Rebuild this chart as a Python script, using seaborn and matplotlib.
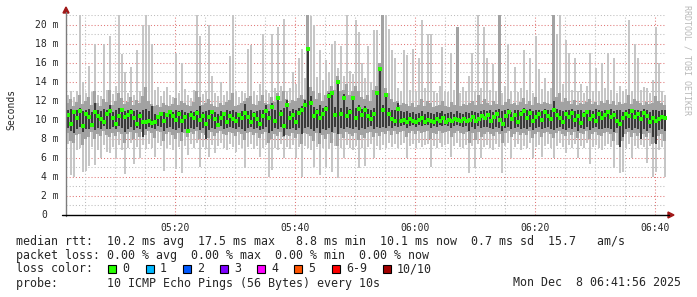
import numpy as np
import pandas as pd
import matplotlib
matplotlib.use("Agg")
import matplotlib.pyplot as plt
import seaborn as sns
from matplotlib.lines import Line2D
from matplotlib.patches import Rectangle, Polygon

# ---------------- data (ms), one sample every 30 s starting 05:01:50 ----------------
start_min = 1 + 50 / 60.0      # minutes after 05:00
step_min = 0.5
n_samples = 200

smoke_max = [
    12.6, 13.0, 12.4, 13.1, 21.0, 14.0, 12.8, 15.7, 12.9, 18.0, 12.6, 12.5, 18.0, 13.2, 18.8, 12.7, 13.6, 21.0, 16.9, 15.0,
    12.8, 15.6, 12.6, 17.4, 13.1, 20.0, 21.0, 20.0, 18.0, 13.2, 13.5, 12.5, 13.0, 13.5, 12.6, 12.4, 17.0, 12.8, 16.0, 13.3,
    12.6, 12.3, 13.2, 21.0, 18.8, 12.7, 13.0, 20.0, 14.6, 12.8, 12.5, 14.0, 12.6, 13.0, 16.7, 21.0, 13.0, 12.4, 13.1, 12.8,
    17.5, 17.9, 13.0, 12.6, 13.8, 19.0, 13.2, 12.8, 19.1, 13.4, 19.8, 13.6, 20.6, 13.1, 13.4, 15.0, 13.8, 16.5, 17.5, 14.4,
    21.05, 20.9, 20.0, 14.5, 17.4, 14.2, 16.3, 15.0, 18.0, 18.3, 15.5, 17.8, 14.6, 21.05, 15.2, 14.8, 20.5, 19.3, 16.0, 14.4,
    17.8, 14.0, 19.5, 19.5, 15.8, 21.05, 21.05, 19.6, 17.4, 16.5, 13.4, 13.1, 17.4, 16.8, 13.2, 17.5, 13.0, 16.5, 20.5, 13.4,
    19.0, 19.0, 13.0, 12.8, 13.6, 17.7, 13.1, 12.9, 17.0, 13.2, 19.8, 12.8, 13.5, 13.0, 14.6, 17.0, 13.1, 21.05, 13.4, 19.8,
    16.5, 13.2, 15.9, 13.0, 21.05, 12.8, 13.6, 18.0, 13.1, 15.6, 12.9, 13.4, 17.4, 13.2, 16.5, 12.8, 18.8, 15.4, 13.3, 14.4,
    13.1, 13.4, 21.05, 19.0, 21.05, 13.8, 18.4, 17.0, 13.2, 16.5, 13.0, 13.8, 12.8, 13.6, 17.0, 13.1, 15.5, 13.0, 16.0, 13.4,
    17.0, 13.2, 16.5, 12.8, 13.6, 13.1, 13.3, 20.5, 13.0, 18.0, 16.5, 13.2, 13.5, 13.4, 12.8, 14.2, 19.8, 16.0, 13.1, 12.6,
]
smoke_min = [
    7.5, 4.2, 4.0, 6.8, 7.0, 4.5, 4.6, 5.2, 7.2, 5.3, 6.8, 6.0, 7.4, 6.6, 6.5, 7.2, 6.0, 7.4, 6.8, 4.3,
    7.0, 7.6, 5.4, 7.2, 6.0, 7.4, 6.9, 7.5, 7.1, 6.1, 7.6, 7.3, 4.6, 7.0, 7.4, 6.8, 4.8, 7.2, 4.4, 7.3,
    6.3, 7.5, 7.0, 7.6, 5.0, 7.2, 6.9, 6.1, 7.4, 6.5, 7.3, 7.6, 7.0, 6.8, 7.5, 7.2, 6.6, 7.4, 7.1, 4.9,
    7.2, 7.5, 6.9, 7.3, 6.1, 7.0, 7.4, 4.0, 4.7, 7.1, 6.8, 7.5, 6.0, 7.2, 6.9, 7.4, 6.0, 7.2, 4.0, 7.3,
    7.0, 6.8, 5.0, 7.2, 4.2, 7.0, 5.0, 6.9, 4.5, 7.3, 3.9, 7.0, 6.0, 7.4, 7.1, 6.8, 7.3, 4.9, 7.0, 5.2,
    7.2, 7.5, 6.0, 7.3, 6.8, 7.4, 7.1, 7.6, 7.2, 7.5, 7.0, 7.4, 7.6, 6.0, 7.3, 7.5, 7.0, 7.6, 7.2, 7.4,
    7.5, 5.0, 7.3, 7.0, 7.6, 7.2, 7.4, 7.5, 6.1, 7.3, 7.6, 7.2, 7.0, 7.4, 4.4, 7.3, 4.9, 7.5, 6.0, 7.2,
    7.4, 7.1, 6.8, 7.5, 7.2, 4.4, 7.3, 7.6, 6.0, 7.2, 7.5, 6.8, 7.3, 7.0, 7.6, 6.0, 7.2, 7.4, 6.1, 7.3,
    7.5, 7.1, 6.0, 7.3, 7.6, 7.2, 6.5, 7.4, 7.0, 7.5, 6.0, 7.3, 7.1, 7.6, 5.4, 7.2, 7.4, 7.0, 6.8, 7.3,
    7.5, 7.2, 4.9, 7.4, 4.4, 4.5, 7.1, 7.5, 6.0, 7.3, 7.0, 7.4, 7.2, 5.5, 7.3, 4.0, 4.5, 6.8, 7.2, 4.0,
]
mid_top = [
    11.8, 12.2, 11.5, 11.9, 12.6, 11.7, 12.0, 12.4, 11.6, 13.0, 11.8, 11.5, 12.2, 11.9, 13.2, 11.6, 12.0, 12.8, 12.3, 11.7,
    11.9, 12.4, 11.6, 12.1, 11.8, 12.5, 13.5, 12.0, 11.7, 11.5, 11.6, 11.4, 11.8, 11.6, 11.5, 11.7, 12.3, 11.6, 12.0, 11.8,
    11.6, 11.5, 11.9, 13.0, 12.4, 11.6, 11.8, 12.2, 11.7, 11.5, 11.4, 11.8, 11.6, 11.9, 12.1, 12.8, 11.5, 11.6, 11.8, 12.0,
    12.3, 12.5, 11.7, 11.6, 12.0, 12.6, 11.8, 11.7, 12.4, 11.9, 12.8, 12.0, 13.0, 12.2, 11.8, 12.1, 12.0, 12.3, 12.6, 12.2,
    21.05, 13.5, 13.0, 12.2, 12.8, 12.0, 12.6, 13.0, 13.6, 13.2, 14.6, 13.0, 13.2, 13.8, 12.6, 13.0, 13.6, 13.0, 12.4, 12.2,
    12.6, 12.0, 13.2, 13.6, 16.0, 21.05, 13.4, 12.8, 12.2, 11.9, 12.0, 11.6, 11.8, 11.7, 11.5, 11.8, 11.4, 11.6, 12.2, 11.5,
    12.0, 11.8, 11.4, 11.5, 11.6, 12.0, 11.5, 11.4, 11.9, 11.6, 19.8, 11.5, 11.7, 11.6, 11.8, 12.0, 11.6, 12.6, 11.7, 12.2,
    11.8, 11.6, 12.0, 11.7, 21.05, 11.6, 11.9, 12.2, 11.7, 11.8, 11.6, 11.9, 12.3, 11.7, 12.0, 11.6, 12.4, 11.8, 11.7, 11.9,
    11.8, 11.7, 21.05, 12.4, 12.8, 11.9, 12.3, 12.0, 11.7, 12.1, 11.6, 11.8, 11.7, 11.9, 12.2, 11.7, 11.9, 11.6, 12.0, 11.8,
    12.1, 11.7, 12.0, 11.6, 11.9, 11.7, 11.8, 12.6, 11.7, 12.2, 12.0, 11.8, 11.6, 11.9, 11.7, 11.8, 12.5, 12.0, 11.8, 11.6,
]
mid_bottom = [
    8.6, 7.8, 7.6, 8.4, 8.5, 7.4, 8.0, 8.2, 8.7, 8.0, 8.5, 8.3, 8.8, 8.4, 8.2, 8.6, 8.3, 8.7, 8.5, 7.6,
    8.5, 8.7, 8.0, 8.6, 8.2, 8.7, 8.4, 8.8, 8.6, 8.1, 8.8, 8.7, 7.8, 8.5, 8.7, 8.4, 8.0, 8.6, 7.8, 8.6,
    8.2, 8.7, 8.5, 8.8, 8.0, 8.6, 8.4, 8.1, 8.7, 8.3, 8.6, 8.8, 8.5, 8.4, 8.7, 8.6, 8.3, 8.7, 8.5, 7.9,
    8.6, 8.7, 8.4, 8.6, 8.1, 8.5, 8.7, 7.6, 8.0, 8.5, 8.3, 8.7, 8.2, 8.4, 8.3, 8.6, 8.1, 8.5, 7.5, 8.6,
    8.5, 8.3, 7.8, 8.6, 7.5, 8.4, 8.0, 8.5, 7.6, 8.6, 7.3, 8.5, 8.1, 8.7, 8.5, 8.3, 8.6, 7.9, 8.4, 8.1,
    8.6, 8.7, 8.2, 8.6, 8.3, 8.7, 8.5, 8.8, 8.4, 8.8, 8.5, 8.7, 8.8, 8.2, 8.6, 8.8, 8.5, 8.8, 8.6, 8.7,
    8.8, 8.0, 8.6, 8.5, 8.8, 8.6, 8.7, 8.8, 8.2, 8.6, 8.8, 8.6, 8.5, 8.7, 7.6, 8.6, 7.9, 8.7, 8.2, 8.5,
    8.7, 8.5, 8.3, 8.7, 8.5, 7.6, 8.6, 8.8, 8.2, 8.5, 8.7, 8.4, 8.6, 8.4, 8.8, 8.1, 8.5, 8.7, 8.2, 8.6,
    8.7, 8.5, 8.1, 8.6, 8.8, 8.5, 8.3, 8.7, 8.4, 8.7, 8.1, 8.6, 8.5, 8.8, 8.0, 8.5, 8.7, 8.4, 8.3, 8.6,
    8.7, 8.5, 7.8, 8.6, 7.4, 7.8, 8.5, 8.7, 8.2, 8.6, 8.3, 8.6, 8.5, 8.2, 8.6, 7.5, 7.6, 8.3, 8.5, 7.8,
]
core_top = [
    11.0, 11.2, 10.8, 11.1, 11.3, 10.9, 11.0, 11.2, 10.8, 11.8, 11.0, 10.9, 11.2, 11.0, 11.6, 10.8, 11.1, 11.3, 11.0, 10.9,
    11.1, 11.2, 10.9, 11.0, 10.8, 11.0, 11.2, 10.9, 11.5, 10.6, 10.5, 10.6, 10.8, 10.7, 10.9, 10.8, 11.0, 10.9, 11.1, 10.8,
    10.7, 10.9, 10.8, 11.1, 11.5, 10.8, 10.9, 11.0, 10.7, 10.8, 10.6, 10.9, 10.8, 11.0, 10.9, 11.1, 10.8, 10.7, 10.9, 11.7,
    10.9, 11.0, 10.8, 10.9, 11.1, 11.0, 11.6, 10.9, 11.8, 11.0, 12.5, 11.1, 11.3, 12.1, 10.9, 11.2, 11.0, 11.3, 11.5, 12.1,
    17.6, 12.5, 11.4, 11.2, 11.6, 11.3, 11.5, 12.8, 13.0, 11.4, 14.0, 11.3, 12.7, 11.4, 11.2, 12.5, 11.3, 11.6, 11.2, 11.5,
    11.2, 11.0, 11.3, 13.0, 15.4, 11.6, 12.8, 11.3, 11.1, 11.0, 11.8, 10.9, 10.8, 10.9, 10.7, 10.8, 10.6, 10.7, 10.9, 10.6,
    10.8, 10.7, 10.6, 10.8, 10.7, 10.9, 10.6, 10.7, 10.8, 10.6, 10.9, 10.7, 10.6, 10.8, 10.7, 10.9, 10.8, 10.7, 10.9, 11.0,
    10.9, 11.1, 10.8, 11.0, 11.2, 10.9, 11.0, 11.2, 10.8, 11.1, 11.0, 10.9, 11.3, 11.0, 11.2, 10.9, 11.0, 11.1, 10.9, 11.2,
    11.0, 11.1, 12.0, 11.2, 11.0, 10.9, 11.1, 11.0, 11.2, 10.9, 11.1, 11.0, 10.8, 11.1, 11.0, 10.9, 11.2, 11.0, 10.9, 11.1,
    11.0, 11.2, 10.9, 11.1, 11.0, 10.8, 11.1, 11.2, 10.9, 11.0, 11.1, 10.9, 11.2, 11.0, 10.8, 11.1, 11.0, 10.9, 11.1, 11.0,
]
core_bottom = [
    9.2, 8.8, 8.6, 9.1, 9.3, 8.7, 9.0, 9.1, 9.3, 8.9, 9.2, 9.0, 9.4, 9.1, 9.0, 9.3, 9.1, 9.4, 9.2, 8.7,
    9.1, 9.3, 8.9, 9.2, 9.0, 8.2, 9.1, 9.3, 9.2, 9.0, 9.4, 9.3, 8.8, 9.2, 9.3, 9.1, 8.9, 9.2, 8.7, 9.1,
    8.8, 9.2, 9.1, 9.3, 8.9, 9.2, 8.0, 8.9, 9.2, 9.0, 9.3, 9.4, 9.1, 9.2, 9.3, 9.2, 9.0, 9.3, 9.1, 8.8,
    9.2, 9.3, 9.1, 9.2, 8.9, 9.1, 9.3, 8.6, 8.8, 9.2, 9.0, 9.3, 8.3, 9.1, 9.0, 9.2, 8.9, 9.2, 8.5, 9.2,
    9.3, 9.1, 8.8, 9.2, 8.6, 9.1, 8.9, 9.2, 8.7, 9.3, 8.5, 9.2, 9.0, 9.3, 9.2, 9.1, 9.3, 8.9, 9.2, 9.0,
    9.3, 9.4, 9.1, 9.3, 9.2, 9.3, 9.2, 9.4, 9.2, 9.4, 9.3, 9.4, 9.5, 9.2, 9.4, 9.5, 9.3, 9.5, 9.4, 9.5,
    9.5, 9.2, 9.4, 9.3, 9.5, 9.4, 9.5, 9.4, 9.2, 9.4, 9.5, 9.4, 9.3, 9.4, 8.8, 9.3, 9.0, 9.4, 9.2, 9.3,
    9.3, 9.2, 9.0, 9.3, 9.2, 8.8, 9.2, 9.3, 9.0, 9.2, 9.3, 9.1, 9.2, 9.1, 9.3, 8.9, 9.2, 9.3, 9.0, 9.2,
    9.3, 9.1, 8.9, 9.2, 9.3, 9.1, 8.9, 9.2, 9.0, 9.3, 8.8, 9.2, 9.1, 9.3, 8.9, 9.2, 9.3, 9.1, 9.0, 9.2,
    9.2, 9.1, 8.7, 9.2, 7.2, 8.2, 9.1, 9.2, 8.9, 9.2, 9.0, 8.0, 9.1, 8.8, 9.2, 8.2, 7.5, 8.9, 9.1, 8.8,
]
median_rtt = [
    10.5, 9.6, 10.8, 10.2, 10.9, 9.4, 10.6, 10.3, 9.5, 10.8, 10.4, 10.1, 9.8, 10.6, 10.9, 10.2, 9.6, 10.4, 11.1, 10.3,
    10.5, 10.8, 10.2, 9.6, 10.4, 9.8, 9.8, 9.9, 9.7, 9.8, 10.3, 10.6, 9.9, 10.5, 10.8, 10.4, 10.0, 10.6, 9.9, 10.3,
    8.8, 10.5, 10.2, 10.7, 10.0, 10.4, 9.6, 10.3, 10.8, 10.1, 9.5, 10.2, 10.6, 9.8, 10.4, 10.1, 9.9, 10.5, 10.2, 10.7,
    10.3, 9.8, 10.5, 10.1, 9.6, 10.4, 10.9, 10.2, 11.4, 9.9, 12.3, 10.6, 9.4, 11.6, 10.2, 10.5, 9.8, 10.7, 11.0, 11.6,
    17.5, 11.8, 10.4, 10.8, 10.2, 10.6, 11.2, 12.5, 12.8, 10.5, 14.0, 10.6, 12.3, 10.4, 10.8, 12.3, 10.2, 11.2, 10.5, 11.0,
    10.4, 10.1, 10.6, 12.8, 15.4, 11.0, 12.6, 10.6, 10.1, 9.9, 11.2, 9.9, 10.0, 9.8, 10.1, 9.9, 9.8, 10.0, 10.2, 9.8,
    10.0, 9.9, 9.8, 10.1, 9.9, 10.2, 9.8, 10.0, 9.9, 10.1, 10.0, 9.9, 10.1, 9.9, 10.0, 10.3, 9.9, 10.1, 10.4, 10.2,
    10.5, 9.9, 10.3, 10.6, 10.0, 9.6, 10.4, 10.8, 10.1, 10.5, 9.8, 10.6, 10.9, 10.2, 10.7, 9.9, 10.3, 10.6, 10.0, 10.8,
    10.4, 10.1, 11.0, 10.5, 10.2, 9.8, 10.6, 10.3, 10.7, 10.0, 10.4, 9.7, 10.5, 10.8, 10.1, 10.4, 9.9, 10.6, 10.2, 10.5,
    10.8, 10.3, 10.5, 9.9, 9.6, 10.2, 10.6, 10.4, 10.9, 10.3, 10.6, 10.1, 10.7, 10.4, 9.8, 10.2, 9.9, 10.1, 10.3, 10.2,
]

y_ticks = [0, 2, 4, 6, 8, 10, 12, 14, 16, 18, 20]
x_tick_pos = [20, 40, 60, 80, 100]          # minutes after 05:00
x_tick_labels = ["05:20", "05:40", "06:00", "06:20", "06:40"]

loss_labels = ["0", "1", "2", "3", "4", "5", "6-9", "10/10"]
loss_colors = ["#26ff00", "#00b8ff", "#0059ff", "#7e00ff", "#ff00ff", "#ff5500", "#ff0000", "#a10000"]

line_rtt = "median rtt:  10.2 ms avg  17.5 ms max   8.8 ms min  10.1 ms now  0.7 ms sd  15.7   am/s"
line_loss = "packet loss: 0.00 % avg  0.00 % max  0.00 % min  0.00 % now"
line_probe = "probe:       10 ICMP Echo Pings (56 Bytes) every 10s"
stamp = "Mon Dec  8 06:41:56 2025"

# ---------------- figure ----------------
sns.set_theme(style="white")
plt.rcParams["font.family"] = ["DejaVu Sans Mono", "DejaVu Sans"]

W, H = 697, 297
def fx(px):
    return px / W
def fy(py):
    return 1 - py / H

fig = plt.figure(figsize=(W / 100, H / 100), dpi=100, facecolor="white")
ax = fig.add_axes([fx(66), fy(215), 600 / W, 200 / H])
ax.set_facecolor("white")

times = start_min + step_min * (np.arange(n_samples) + 0.5)
df = pd.DataFrame({
    "t": times, "hi": smoke_max, "lo": smoke_min, "mh": mid_top, "ml": mid_bottom,
    "ch": core_top, "cl": core_bottom, "median": median_rtt,
})

x_lo, x_hi = start_min, start_min + step_min * n_samples
ax.set_xlim(x_lo, x_hi)
ax.set_ylim(0, 21.05)

# grid
dot = (0, (1, 2))
for v in range(1, 22):
    major = v % 2 == 0
    ax.axhline(v, color="#e07878" if major else "#bdbdbd", lw=0.75, ls=dot, zorder=0.5)
for m in range(5, 101, 5):
    major = m % 20 == 0
    ax.axvline(m, color="#e07878" if major else "#bdbdbd", lw=0.75, ls=dot, zorder=0.5)

# smoke
ax.bar(df["t"], df["hi"] - df["lo"], bottom=df["lo"], width=step_min * 2 / 3,
       color="#c6c6c6", linewidth=0, antialiased=False, zorder=1)
ax.bar(df["t"], df["mh"] - df["ml"], bottom=df["ml"], width=step_min,
       color="#a2a2a2", linewidth=0, antialiased=False, zorder=2)
ax.bar(df["t"], df["ch"] - df["cl"], bottom=df["cl"], width=step_min * 2 / 3,
       color="#3a3a3a", linewidth=0, antialiased=False, zorder=3)

# median
sns.scatterplot(data=df, x="t", y="median", ax=ax, marker="s", s=6.5, color="#26ff00",
                linewidth=0, legend=False, zorder=4)

for s in ax.spines.values():
    s.set_visible(False)
ax.set_xlabel("")
ax.set_ylabel("")

ax.set_xticks(x_tick_pos)
ax.set_xticklabels(x_tick_labels, fontsize=7, family="DejaVu Sans Mono")
ax.tick_params(axis="x", direction="out", length=3, width=1, color="black", pad=3)
ax.set_yticks(y_ticks)
ax.set_yticklabels([])
ax.tick_params(axis="y", direction="inout", length=4, width=1, color="#808080", pad=0)

ytr = ax.get_yaxis_transform()
for v in y_ticks:
    if v == 0:
        ax.text(-19.2 / 600, v, "0", transform=ytr, ha="right", va="center", fontsize=7)
    else:
        ax.text(-7.5 / 600, v, f"{v} m", transform=ytr, ha="right", va="center", fontsize=7)

# axes lines and arrows
fig.add_artist(Line2D([fx(66), fx(66)], [fy(216), fy(12)], color="#7c7c7c", lw=1.0))
fig.add_artist(Line2D([fx(62), fx(669)], [fy(215), fy(215)], color="black", lw=1.0))
fig.add_artist(Polygon([(fx(63), fy(13)), (fx(69), fy(13)), (fx(66), fy(7))],
                       closed=True, color="#a01818", transform=fig.transFigure))
fig.add_artist(Polygon([(fx(668), fy(212)), (fx(668), fy(218)), (fx(674), fy(215))],
                       closed=True, color="#a01818", transform=fig.transFigure))

# labels
fig.text(fx(11), fy(109), "Seconds", rotation=90, ha="center", va="center", fontsize=7)
fig.text(fx(687), fy(5), "RRDTOOL / TOBI OETIKER", rotation=270, ha="center", va="top",
         fontsize=6, color="#b8b8b8")

fs = 8.4
fig.text(fx(16), fy(241), line_rtt, ha="left", va="center", fontsize=fs)
fig.text(fx(16), fy(255), line_loss, ha="left", va="center", fontsize=fs)
fig.text(fx(16), fy(269), "loss color:", ha="left", va="center", fontsize=fs)
box_x = [108, 146, 183, 220, 257, 294, 332, 383]
for bx, lab, col in zip(box_x, loss_labels, loss_colors):
    fig.add_artist(Rectangle((fx(bx), fy(273)), 8 / W, 8 / H, facecolor=col, edgecolor="black",
                             lw=0.8, transform=fig.transFigure))
    fig.text(fx(bx + 14), fy(269), lab, ha="left", va="center", fontsize=fs)
fig.text(fx(16), fy(283), line_probe, ha="left", va="center", fontsize=fs)
fig.text(fx(513), fy(283), stamp, ha="left", va="center", fontsize=fs)

fig.savefig("out.png", dpi=100, facecolor="white")
